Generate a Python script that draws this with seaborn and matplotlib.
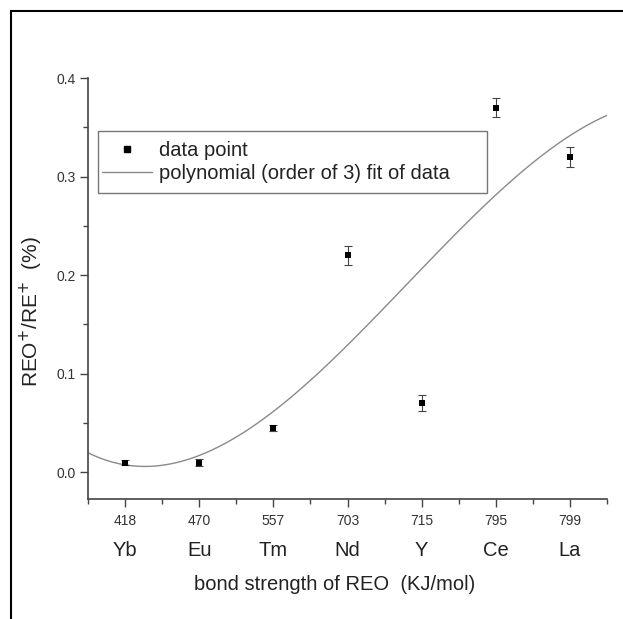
import numpy as np
import pandas as pd
import matplotlib
matplotlib.use("Agg")
import matplotlib.pyplot as plt
import seaborn as sns
from matplotlib.patches import Rectangle
from matplotlib.lines import Line2D
from matplotlib.ticker import MultipleLocator

# ---- data ----
elements = ["Yb", "Eu", "Tm", "Nd", "Y", "Ce", "La"]
bond_strength = ["418", "470", "557", "703", "715", "795", "799"]
ratio = [0.010, 0.010, 0.045, 0.220, 0.070, 0.370, 0.320]
ratio_err = [0.003, 0.004, 0.003, 0.010, 0.008, 0.010, 0.010]

sns.set_style("ticks")
plt.rcParams['font.family'] = ['Liberation Sans', 'DejaVu Sans']

fig = plt.figure(figsize=(6.23, 6.19), dpi=100)
ax = fig.add_axes([88/623, 1-499/619, (607-88)/623, (499-78)/619])
W, H = 519.0, 421.0  # axes size in px


def ax_x(px):
    return (px - 88) / W


def ax_y(py):
    return (499 - py) / H


idx = np.arange(len(elements))
df = pd.DataFrame({"idx": idx, "ratio": ratio, "err": ratio_err})

# polynomial fit (order 3)
coef = np.polyfit(idx, ratio, 3)
xf = np.linspace(-0.5, 6.5, 300)
fit_df = pd.DataFrame({"x": xf, "y": np.polyval(coef, xf)})
sns.lineplot(data=fit_df, x="x", y="y", ax=ax, color="#8a8a8a", lw=1.0)

ax.errorbar(df["idx"], df["ratio"], yerr=df["err"], fmt="none",
            ecolor="#444444", elinewidth=0.8, capsize=3.0, capthick=0.8, zorder=3)
sns.scatterplot(data=df, x="idx", y="ratio", ax=ax, marker="s", s=14,
                color="black", edgecolor="black", linewidth=0, zorder=4)

ax.set_xlim(-0.5, 6.5)
ax.set_ylim(-0.027, 0.4)
ax.set_xticks(idx)
ax.set_xticklabels(bond_strength, fontsize=10, color="#333333")
ax.set_xticks(np.arange(-0.5, 7.0, 1.0), minor=True)
ax.set_yticks([0.0, 0.1, 0.2, 0.3, 0.4])
ax.set_yticklabels(["0.0", "0.1", "0.2", "0.3", "0.4"], fontsize=10, color="#333333")
ax.yaxis.set_minor_locator(MultipleLocator(0.05))
ax.tick_params(axis="both", which="major", length=6, width=1.0, color="#444444", direction="out")
ax.tick_params(axis="x", which="major", pad=5)
ax.tick_params(axis="y", which="major", pad=3)
ax.tick_params(axis="both", which="minor", length=3.5, width=1.0, color="#444444", direction="out")

for s in ["top", "right"]:
    ax.spines[s].set_visible(False)
for s in ["left", "bottom"]:
    ax.spines[s].set_linewidth(1.2)
    ax.spines[s].set_color("#444444")

# element names under the numbers
for i, el in enumerate(elements):
    ax.text(i, ax_y(551), el, transform=ax.get_xaxis_transform(), ha="center", va="center",
            fontsize=14.5, color="#222222")

ax.set_xlabel("bond strength of REO  (KJ/mol)", fontsize=14.5, color="#222222")
ax.xaxis.set_label_coords(ax_x(335), ax_y(584))
ax.xaxis.label.set_va("center")
ax.set_ylabel("REO$^{+}$/RE$^{+}$  (%)", fontsize=15, color="#222222")
ax.yaxis.set_label_coords(ax_x(31), ax_y(312))
ax.yaxis.label.set_va("center")

# legend (frame drawn as a separate box)
handles = [
    Line2D([], [], marker="s", color="black", linestyle="none", markersize=4),
    Line2D([], [], color="#8a8a8a", lw=1.0),
]
leg = ax.legend(handles, ["data point", "polynomial (order of 3) fit of data"],
                loc="upper left", bbox_to_anchor=(ax_x(102), ax_y(141)),
                borderaxespad=0, borderpad=0, fontsize=14.5, frameon=False,
                handlelength=2.5, handletextpad=0.35, labelspacing=0.22)
for t in leg.get_texts():
    t.set_color("#222222")
ax.add_patch(Rectangle((ax_x(98), ax_y(193)), (487 - 98) / W, (193 - 131) / H,
                       transform=ax.transAxes, fill=False, edgecolor="#777777",
                       linewidth=1.0, zorder=5, clip_on=False))

# figure border
fig.patches.append(Rectangle((11/623, -0.05), 1.2, 1-11/619+0.05, transform=fig.transFigure,
                             fill=False, edgecolor="black", linewidth=1.5, zorder=10))

fig.savefig("out.png", dpi=100)
